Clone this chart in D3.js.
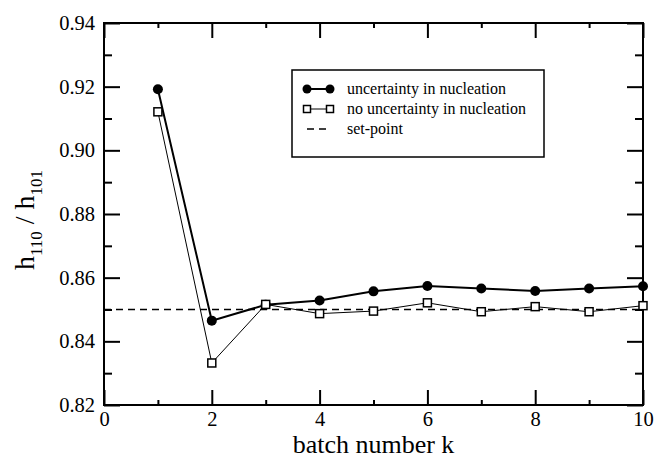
<!DOCTYPE html>
<html>
<head>
<meta charset="utf-8">
<script src="https://cdn.jsdelivr.net/npm/d3@7/dist/d3.min.js"></script>
<style>
  html, body { margin: 0; padding: 0; background: #fff; }
  text { font-family: "Liberation Serif", "Times New Roman", Times, serif; }
</style>
</head>
<body>
<svg id="chart" width="655" height="459"></svg>
<script>
// Batch index and the ratio h110/h101 for each run
const batches = [1, 2, 3, 4, 5, 6, 7, 8, 9, 10];
const withUncertainty = [0.9192, 0.8465, 0.8515, 0.8528, 0.8557, 0.8574, 0.8566, 0.8558, 0.8566, 0.8573];
const noUncertainty   = [0.9121, 0.8332, 0.8516, 0.8487, 0.8495, 0.8521, 0.8493, 0.8509, 0.8493, 0.8512];
const setPoint = 0.85;
const xTicks = [0, 2, 4, 6, 8, 10];
const xMinor = [1, 3, 5, 7, 9];
const yTicks = [0.82, 0.84, 0.86, 0.88, 0.90, 0.92, 0.94];
const yMinor = [0.83, 0.85, 0.87, 0.89, 0.91, 0.93];
const legendLabels = ["uncertainty in nucleation", "no uncertainty in nucleation", "set-point"];

const FONT = "Liberation Serif";
const svg = d3.select("#chart");
const L = 104, R = 643, T = 23, B = 405;

const x = d3.scaleLinear().domain([0, 10]).range([L, R]);
const y = d3.scaleLinear().domain([0.82, 0.94]).range([B, T]);

// Inward ticks on all four sides, built with d3 axes
function addAxis(axis, tx, ty, vals, len, pad, fmt) {
  const a = svg.append("g").attr("transform", `translate(${tx},${ty})`)
    .call(axis.tickValues(vals).tickSize(-len).tickSizeOuter(0).tickPadding(pad)
      .tickFormat(fmt || (() => "")));
  a.select(".domain").remove();
  a.selectAll(".tick line").attr("stroke", "#000").attr("stroke-width", 2);
  a.selectAll(".tick text").attr("font-family", FONT).style("font-family", FONT)
    .attr("font-size", 20.5).attr("fill", "#000");
  return a;
}
addAxis(d3.axisBottom(x), 0, B, xTicks, 15, 6, d => d);
addAxis(d3.axisBottom(x), 0, B, xMinor, 5, 6);
addAxis(d3.axisTop(x), 0, T, xTicks, 15, 7);
addAxis(d3.axisTop(x), 0, T, xMinor, 5, 7);
addAxis(d3.axisLeft(y), L, 0, yTicks, 16, 9, d => d.toFixed(2));
addAxis(d3.axisLeft(y), L, 0, yMinor, 8, 9);
addAxis(d3.axisRight(y), R, 0, yTicks, 16, 9);
addAxis(d3.axisRight(y), R, 0, yMinor, 8, 9);

// Frame
svg.append("rect").attr("x", L).attr("y", T).attr("width", R - L).attr("height", B - T)
  .attr("fill", "none").attr("stroke", "#000").attr("stroke-width", 2);

// Axis titles
svg.append("text").attr("font-family", FONT).style("font-family", FONT)
  .attr("x", (L + R) / 2).attr("y", 453).attr("text-anchor", "middle")
  .attr("font-size", 26).text("batch number k");
const yt = svg.append("text").attr("font-family", FONT).style("font-family", FONT)
  .attr("transform", "translate(34,220) rotate(-90)")
  .attr("text-anchor", "middle").attr("font-size", 28);
yt.append("tspan").text("h");
yt.append("tspan").attr("font-size", 17).attr("dy", 8).text("110");
yt.append("tspan").attr("dy", -8).text(" / h");
yt.append("tspan").attr("font-size", 17).attr("dy", 8).text("101");

// Set-point reference
svg.append("line").attr("x1", x(0)).attr("x2", x(10)).attr("y1", y(setPoint)).attr("y2", y(setPoint))
  .attr("stroke", "#000").attr("stroke-width", 1.5).attr("stroke-dasharray", "7,5");

const line = d3.line().x((d, i) => x(batches[i])).y(d => y(d));

// Series without nucleation uncertainty
svg.append("path").datum(noUncertainty).attr("d", line)
  .attr("fill", "none").attr("stroke", "#000").attr("stroke-width", 1);
// Series with nucleation uncertainty
svg.append("path").datum(withUncertainty).attr("d", line)
  .attr("fill", "none").attr("stroke", "#000").attr("stroke-width", 2);

svg.append("g").selectAll("circle").data(withUncertainty).join("circle")
  .attr("cx", (d, i) => x(batches[i])).attr("cy", d => y(d)).attr("r", 5).attr("fill", "#000");
svg.append("g").selectAll("rect").data(noUncertainty).join("rect")
  .attr("x", (d, i) => x(batches[i]) - 4).attr("y", d => y(d) - 4)
  .attr("width", 8).attr("height", 8).attr("fill", "#fff").attr("stroke", "#000").attr("stroke-width", 1.5);

// Legend
const lg = svg.append("g");
lg.append("rect").attr("x", 292).attr("y", 70).attr("width", 252).attr("height", 87)
  .attr("fill", "#fff").attr("stroke", "#000").attr("stroke-width", 1.5);
const rows = [89, 109, 129];
lg.append("line").attr("x1", 307).attr("x2", 330).attr("y1", rows[0]).attr("y2", rows[0]).attr("stroke", "#000").attr("stroke-width", 2);
[307, 330].forEach(cx => lg.append("circle").attr("cx", cx).attr("cy", rows[0]).attr("r", 4.5).attr("fill", "#000"));
lg.append("line").attr("x1", 307).attr("x2", 330).attr("y1", rows[1]).attr("y2", rows[1]).attr("stroke", "#000").attr("stroke-width", 1);
[307, 330].forEach(cx => lg.append("rect").attr("x", cx - 3.5).attr("y", rows[1] - 3.5).attr("width", 7).attr("height", 7)
  .attr("fill", "#fff").attr("stroke", "#000").attr("stroke-width", 1.5));
lg.append("line").attr("x1", 307).attr("x2", 330).attr("y1", rows[2]).attr("y2", rows[2]).attr("stroke", "#000")
  .attr("stroke-width", 1.5).attr("stroke-dasharray", "7,5");
lg.selectAll("text").data(legendLabels).join("text")
  .attr("font-family", FONT).style("font-family", FONT)
  .attr("x", 347).attr("y", (d, i) => rows[i] + 5).attr("font-size", 16).text(d => d);
</script>
</body>
</html>
